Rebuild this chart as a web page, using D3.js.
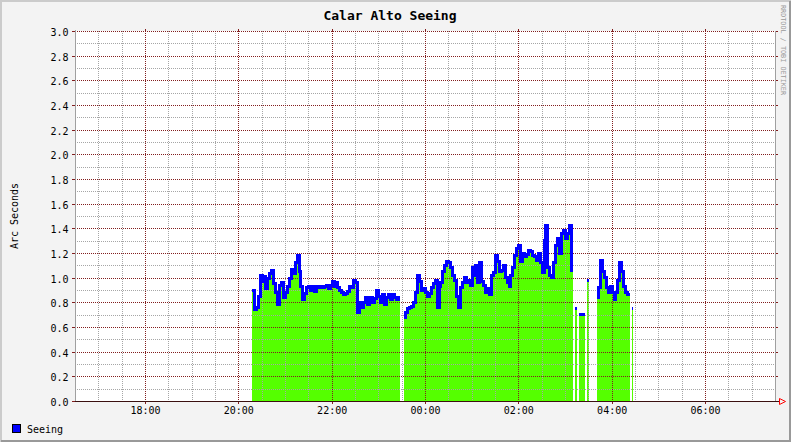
<!DOCTYPE html>
<html>
<head>
<meta charset="utf-8">
<script src="https://cdn.jsdelivr.net/npm/d3@7/dist/d3.min.js"></script>
<style>
  body { margin: 0; background: #f3f3f3; }
  svg { display: block; }
  text { font-family: "DejaVu Sans Mono", monospace; fill: #000; }
</style>
</head>
<body>
<svg id="chart" width="791" height="442"></svg>
<script>
// --- data ---
const title = "Calar Alto Seeing";
const yTitle = "Arc Seconds";
const seriesName = "Seeing";
const watermark = "RRDTOOL / TOBI OETIKER";

const rangeStart = "2008-01-01 16:30";
const rangeEnd = "2008-01-02 07:30";
const seriesStart = "2008-01-01 20:18";
const stepMinutes = 2.5;

// seeing in arc seconds, one value per step, null = no data
const seeing = [
  0.90, 0.74, 0.76, 0.85, 1.02, 0.97, 1.01, 0.91, 0.99, 1.03,
  1.06, 0.95, 0.88, 0.78, 0.94, 0.96, 0.84, 0.88, 0.93, 0.99,
  1.07, 1.03, 1.12, 1.18, 1.05, 0.93, 0.82, 0.87, 0.92, 0.93,
  0.90, 0.93, 0.89, 0.93, 0.92, 0.93, 0.92, 0.93, 0.94, 0.91,
  0.94, 0.97, 0.93, 0.96, 0.92, 0.90, 0.88, 0.86, 0.87, 0.89,
  0.93, 0.92, 0.98, 0.96, 0.72, 0.80, 0.76, 0.80, 0.84, 0.78,
  0.82, 0.84, 0.80, 0.83, 0.90, 0.85, 0.80, 0.86, 0.78, 0.84,
  0.86, 0.82, 0.86, 0.84, 0.82, 0.84, null, null, 0.68, 0.72,
  0.75, 0.76, 0.77, 0.80, 0.88, 1.02, 0.97, 0.90, 0.91, 0.88,
  0.85, 0.87, 0.92, 0.95, 0.98, 0.76, 0.93, 0.96, 1.05, 1.10,
  1.13, 1.12, 1.08, 1.02, 0.98, 0.85, 0.76, 0.92, 0.96, 1.00,
  0.96, 0.98, 0.94, 1.08, 1.02, 1.10, 0.96, 1.12, 0.97, 0.94,
  0.88, 0.91, 0.86, 1.02, 1.04, 1.18, 1.13, 1.05, 1.06, 1.10,
  1.00, 0.96, 0.93, 1.02, 1.08, 1.18, 1.24, 1.26, 1.13, 1.20,
  1.17, 1.19, 1.22, 1.21, 1.18, 1.17, 1.14, 1.20, 1.12, 1.04,
  1.30, 1.42, 1.08, 1.02, 1.00, 1.12, 1.26, 1.32, 1.20, 1.36,
  1.38, 1.32, 1.36, 1.42, 1.06, null, 0.75, null, 0.70, 0.70,
  0.70, null, 0.98, null, null, null, null, 0.84, 0.92, 1.14,
  1.05, 1.00, 0.92, 0.88, 0.93, 0.88, 0.82, 0.88, 0.98, 1.12,
  1.05, 0.93, 0.88, 0.86, null, 0.75
];

const yTicks = [0.0, 0.2, 0.4, 0.6, 0.8, 1.0, 1.2, 1.4, 1.6, 1.8, 2.0, 2.2, 2.4, 2.6, 2.8, 3.0];
const yMinorTicks = [0.1, 0.3, 0.5, 0.7, 0.9, 1.1, 1.3, 1.5, 1.7, 1.9, 2.1, 2.3, 2.5, 2.7, 2.9];

// --- rrdtool-ish colours ---
const col = {
  back: "#f3f3f3", canvas: "#ffffff", shadeA: "#cbcbcb", shadeB: "#999999",
  grid: "#a6a6a6", mgrid: "#821e1e", axis: "#a0a0a0", arrow: "#ff0000",
  area: "#55ff00", line: "#0000ff"
};

const W = 791, H = 442;
const plot = {left: 75, right: 775, top: 31, bottom: 401};
const crisp = v => Math.round(v) + 0.5;

const parse = d3.timeParse("%Y-%m-%d %H:%M");
const t0 = parse(rangeStart), t1 = parse(rangeEnd), s0 = parse(seriesStart);

const x = d3.scaleTime().domain([t0, t1]).range([plot.left, plot.right]);
const y = d3.scaleLinear().domain([0, 3]).range([plot.bottom, plot.top]);

const svg = d3.select("#chart");

// background + 3d frame
svg.append("rect").attr("width", W).attr("height", H).attr("fill", col.back);
svg.append("path").attr("d", `M1,${H} V1 H${W}`).attr("stroke", col.shadeA).attr("stroke-width", 2).attr("fill", "none");
svg.append("path").attr("d", `M1,${H - 1} H${W - 1} V1`).attr("stroke", col.shadeB).attr("stroke-width", 2).attr("fill", "none");

svg.append("rect")
    .attr("x", plot.left).attr("y", plot.top)
    .attr("width", plot.right - plot.left).attr("height", plot.bottom - plot.top)
    .attr("fill", col.canvas);

// data: each sample becomes a flat step from its start to the next sample
const samples = seeing.flatMap((v, i) => {
  const a = d3.timeSecond.offset(s0, i * stepMinutes * 60);
  const b = d3.timeSecond.offset(s0, (i + 1) * stepMinutes * 60);
  return [{t: a, v: v}, {t: b, v: v}];
});

const area = d3.area()
    .defined(d => d.v != null)
    .x(d => x(d.t))
    .y0(y(0) + 0.5)
    .y1(d => y(d.v));

const line = d3.line()
    .defined(d => d.v != null)
    .x(d => x(d.t))
    .y(d => y(d.v));

// series area first, grids on top of it
svg.append("path").datum(samples)
    .attr("d", area)
    .attr("fill", col.area)
    .attr("shape-rendering", "crispEdges");

const grid = svg.append("g").attr("shape-rendering", "crispEdges");
const minorX = d3.timeMinute.every(30).range(t0, d3.timeMinute.offset(t1, 1))
    .filter(d => d.getMinutes() !== 0 || d.getHours() % 2 !== 0);
const majorX = d3.timeHour.every(2).range(t0, t1);

grid.selectAll(".ymin").data(yMinorTicks).join("line")
    .attr("x1", plot.left).attr("x2", plot.right)
    .attr("y1", d => crisp(y(d))).attr("y2", d => crisp(y(d)))
    .attr("stroke", col.grid).attr("stroke-dasharray", "1,1");
grid.selectAll(".xmin").data(minorX).join("line")
    .attr("y1", plot.top).attr("y2", plot.bottom)
    .attr("x1", d => crisp(x(d))).attr("x2", d => crisp(x(d)))
    .attr("stroke", col.grid).attr("stroke-dasharray", "1,1");

const major = svg.append("g").attr("shape-rendering", "crispEdges");
major.selectAll(".ymaj").data(yTicks).join("line")
    .attr("x1", plot.left).attr("x2", plot.right)
    .attr("y1", d => crisp(y(d))).attr("y2", d => crisp(y(d)))
    .attr("stroke", col.mgrid).attr("stroke-dasharray", "1,1");
major.selectAll(".xmaj").data(majorX).join("line")
    .attr("y1", plot.top).attr("y2", plot.bottom)
    .attr("x1", d => crisp(x(d))).attr("x2", d => crisp(x(d)))
    .attr("stroke", col.mgrid).attr("stroke-dasharray", "1,1");

// solid tick stubs outside the canvas
major.selectAll(".ytickL").data(yTicks).join("line")
    .attr("x1", plot.left - 3).attr("x2", plot.left)
    .attr("y1", d => crisp(y(d))).attr("y2", d => crisp(y(d)))
    .attr("stroke", col.mgrid);
major.selectAll(".ytickR").data(yTicks).join("line")
    .attr("x1", plot.right).attr("x2", plot.right + 3)
    .attr("y1", d => crisp(y(d))).attr("y2", d => crisp(y(d)))
    .attr("stroke", col.mgrid);
major.selectAll(".xtickT").data(majorX).join("line")
    .attr("y1", plot.top - 2).attr("y2", plot.top)
    .attr("x1", d => crisp(x(d))).attr("x2", d => crisp(x(d)))
    .attr("stroke", col.mgrid);
major.selectAll(".xtickB").data(majorX).join("line")
    .attr("y1", plot.bottom).attr("y2", plot.bottom + 3)
    .attr("x1", d => crisp(x(d))).attr("x2", d => crisp(x(d)))
    .attr("stroke", col.mgrid);

svg.append("path").datum(samples)
    .attr("d", line)
    .attr("fill", "none")
    .attr("stroke", col.line)
    .attr("stroke-width", 3)
    .attr("stroke-linejoin", "miter")
    .attr("shape-rendering", "crispEdges");

// axes
svg.append("line")
    .attr("x1", crisp(plot.left)).attr("x2", crisp(plot.left))
    .attr("y1", plot.top - 1).attr("y2", plot.bottom + 1)
    .attr("stroke", col.axis);
svg.append("line")
    .attr("x1", crisp(plot.right)).attr("x2", crisp(plot.right))
    .attr("y1", plot.top).attr("y2", plot.bottom)
    .attr("stroke", col.axis);
svg.append("line")
    .attr("x1", plot.left).attr("x2", plot.right + 4)
    .attr("y1", crisp(plot.bottom)).attr("y2", crisp(plot.bottom))
    .attr("stroke", "#3a1010");
svg.append("path")
    .attr("d", `M${plot.right + 4.5},${plot.bottom - 2.5} V${plot.bottom + 3.5} L${plot.right + 10.5},${plot.bottom + 0.5} Z`)
    .attr("fill", "none").attr("stroke", col.arrow);

// tick labels
svg.append("g").selectAll("text").data(yTicks).join("text")
    .attr("x", 68.5).attr("y", d => crisp(y(d)) + 4)
    .attr("text-anchor", "end").attr("font-size", 10)
    .text(d => d3.format(".1f")(d));

svg.append("g").selectAll("text").data(majorX).join("text")
    .attr("x", d => x(d) + 0.5).attr("y", 413.5)
    .attr("text-anchor", "middle").attr("font-size", 10)
    .text(d => d3.timeFormat("%H:%M")(d));

// titles
svg.append("text")
    .attr("x", 390).attr("y", 19.5)
    .attr("text-anchor", "middle").attr("font-size", 13).attr("font-weight", "bold")
    .text(title);

svg.append("text")
    .attr("transform", "translate(18,216) rotate(-90)")
    .attr("text-anchor", "middle").attr("font-size", 10)
    .text(yTitle);

svg.append("text")
    .attr("transform", "translate(781,5) rotate(90)")
    .attr("font-size", 6.8).style("fill", "#999")
    .text(watermark);

// legend
svg.append("rect")
    .attr("x", 12.5).attr("y", 424.5).attr("width", 8).attr("height", 8)
    .attr("fill", col.line).attr("stroke", "#000");
svg.append("text")
    .attr("x", 27).attr("y", 432.5).attr("font-size", 10)
    .text(seriesName);
</script>
</body>
</html>
